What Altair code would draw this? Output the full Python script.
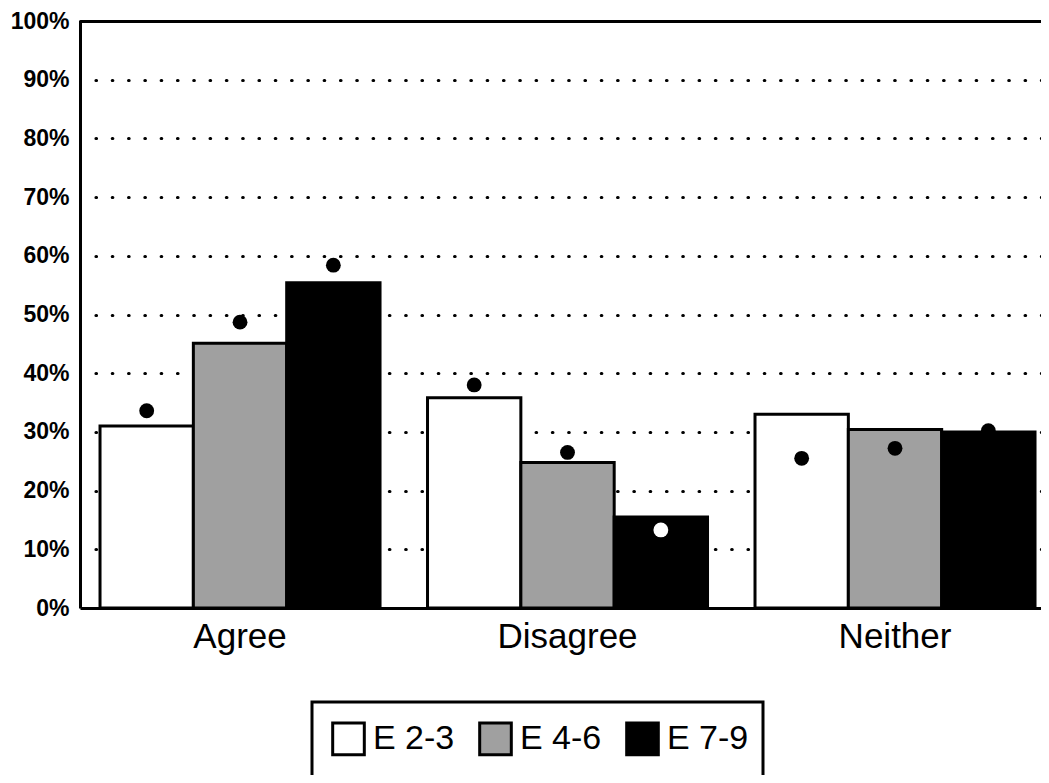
import altair as alt
import pandas as pd

categories = ["Agree", "Disagree", "Neither"]
series = ["E 2-3", "E 4-6", "E 7-9"]

# bar heights (fractions), one list per series, in category order
bars_e23 = [0.310, 0.358, 0.330]
bars_e46 = [0.451, 0.248, 0.304]
bars_e79 = [0.554, 0.155, 0.300]

# dot markers (fractions), one list per series, in category order
dots_e23 = [0.336, 0.380, 0.255]
dots_e46 = [0.487, 0.265, 0.272]
dots_e79 = [0.584, 0.133, 0.302]

y_ticks = [0, 0.1, 0.2, 0.3, 0.4, 0.5, 0.6, 0.7, 0.8, 0.9, 1.0]

rows = []
for s, bvals, dvals in zip(series, [bars_e23, bars_e46, bars_e79], [dots_e23, dots_e46, dots_e79]):
    for c, b, d in zip(categories, bvals, dvals):
        rows.append({"category": c, "series": s, "bar": b, "dot": d})
df = pd.DataFrame(rows)

FONT = "Liberation Sans"

x_enc = alt.X(
    "category:N",
    sort=categories,
    scale=alt.Scale(paddingInner=0.145, paddingOuter=0.0397, align=0.77),
    axis=alt.Axis(
        title=None,
        labelAngle=0,
        labelFontSize=35,
        labelFont=FONT,
        labelColor="black",
        ticks=False,
        labelPadding=11,
        domainColor="black",
        domainWidth=3,
        grid=False,
    ),
)
xoff_enc = alt.XOffset("series:N", sort=series, scale=alt.Scale(paddingInner=0, paddingOuter=0))

y_scale = alt.Scale(domain=[0, 1], nice=False, zero=True)

base = alt.Chart(df)

bars = base.mark_bar(stroke="black", strokeWidth=3).encode(
    x=x_enc,
    xOffset=xoff_enc,
    y=alt.Y(
        "bar:Q",
        scale=y_scale,
        axis=alt.Axis(
            title=None,
            values=y_ticks,
            format=".0%",
            labelFontSize=23,
            labelFont=FONT,
            labelFontWeight="bold",
            labelColor="black",
            labelPadding=11,
            ticks=False,
            domainColor="black",
            domainWidth=3,
            grid=True,
            gridColor="black",
            gridWidth=3.2,
            gridDash={"condition": {"test": "datum.value >= 1", "value": [1, 0]}, "value": [0.5, 15.8]},
            gridCap="round",
            gridDashOffset=0.8,
            gridOpacity={"condition": {"test": "datum.value <= 0", "value": 0}, "value": 1},
        ),
    ),
    fill=alt.Color(
        "series:N",
        sort=series,
        scale=alt.Scale(domain=series, range=["#ffffff", "#a0a0a0", "#000000"]),
        legend=alt.Legend(
            title=None,
            orient="none",
            legendX=232,
            legendY=681,
            direction="horizontal",
            columns=3,
            symbolType="square",
            symbolSize=1000,
            symbolStrokeColor="black",
            symbolStrokeWidth=3,
            labelFontSize=34,
            labelFont=FONT,
            labelColor="black",
            labelOffset=7,
            columnPadding=18,
            padding=19,
        ),
    ),
)

dots = base.mark_point(filled=True, size=220, shape="circle", opacity=1).encode(
    x=alt.X("category:N", sort=categories),
    xOffset=alt.XOffset("series:N", sort=series),
    y=alt.Y("dot:Q", scale=y_scale),
    fill=alt.condition(
        "datum.category === 'Disagree' && datum.series === 'E 7-9'",
        alt.value("white"),
        alt.value("black"),
    ),
    stroke=alt.value("transparent"),
)

# thick frame around the legend (decoration, not data)
legend_frame = alt.Chart(pd.DataFrame({"frame": [0]})).mark_rect(
    fill="transparent", stroke="black", strokeWidth=3
).encode(
    x=alt.value(232),
    x2=alt.value(683),
    y=alt.value(681),
    y2=alt.value(775),
)

chart = (
    alt.layer(bars, dots, legend_frame)
    .properties(
        width=961,
        height=587,
        autosize=alt.AutoSizeParams(type="none"),
        padding={"left": 72, "top": 13, "right": 0, "bottom": 167},
    )
    .configure_view(stroke=None)
    .configure(background="white")
)

chart.save("out.html", embed_options={"renderer": "svg", "actions": False})
